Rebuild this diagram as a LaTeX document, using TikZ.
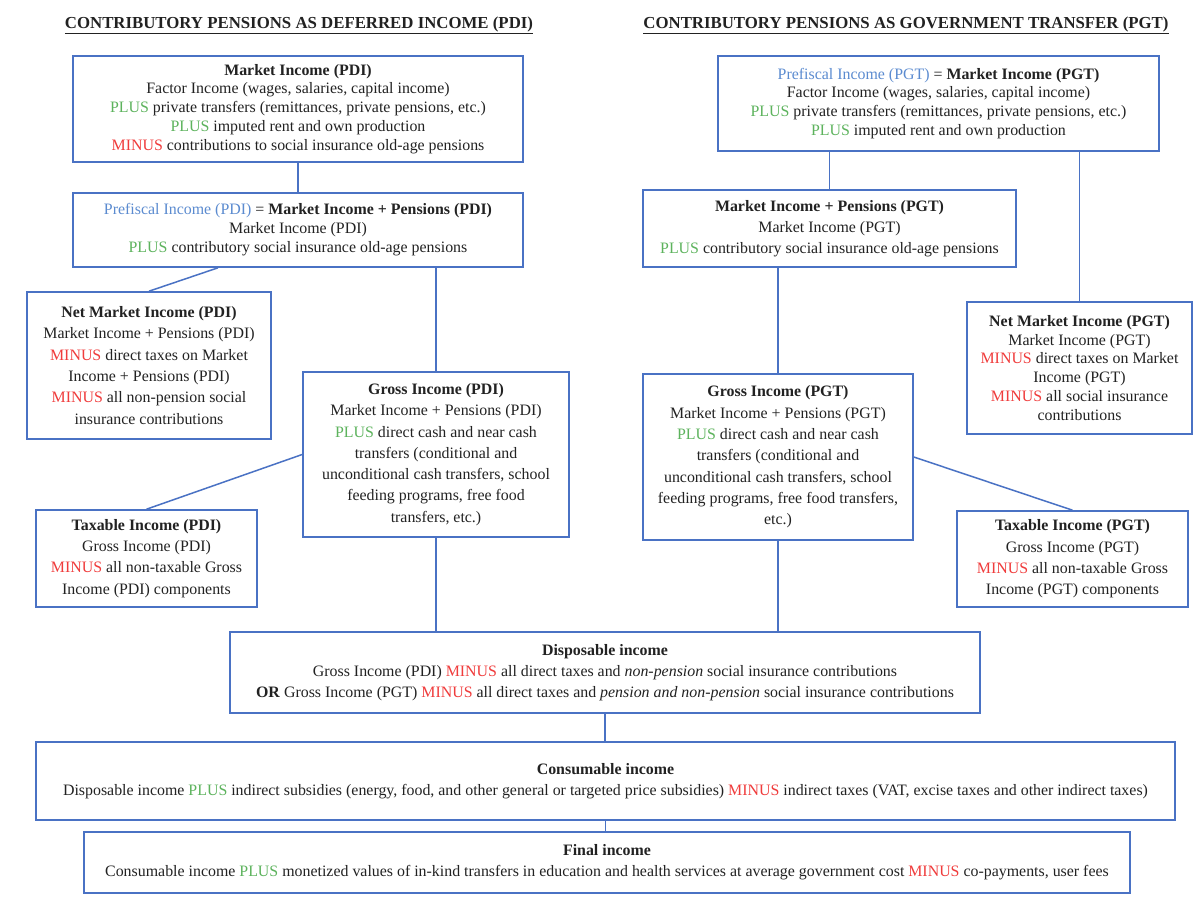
\documentclass[tikz,border=0pt]{standalone}
\usepackage{fontspec}
\setmainfont{Liberation Serif}
\definecolor{boxblue}{HTML}{4A72C4}
\definecolor{plusgreen}{HTML}{5DB35D}
\definecolor{minusred}{HTML}{F03C3C}
\definecolor{preblue}{HTML}{5B8BD0}
\definecolor{textgray}{HTML}{222222}
\newcommand{\kPlus}{\textcolor{plusgreen}{PLUS}}
\newcommand{\kMinus}{\textcolor{minusred}{MINUS}}
\begin{document}
\begin{tikzpicture}[x=1pt,y=-1pt,
  box/.style={draw=boxblue, line width=1.6pt, align=center, inner sep=0pt, text=textgray, font=\fontsize{15.9}{18.9}\selectfont},
  wide/.style={font=\fontsize{15.9}{21.3}\selectfont},
  conn/.style={draw=boxblue, line width=1.5pt},
  ttl/.style={text=textgray, font=\bfseries\fontsize{16.8}{18}\selectfont}]
\useasboundingbox (0,0) rectangle (1200,902);
\fill[white] (0,0) rectangle (1200,902);

\node[ttl] (t1) at (299,25) {\underline{CONTRIBUTORY PENSIONS AS DEFERRED INCOME (PDI)}};
\node[ttl] (t2) at (906,25) {\underline{CONTRIBUTORY PENSIONS AS GOVERNMENT TRANSFER (PGT)}};

% left column
\node[box, minimum width=450pt, minimum height=106pt] (mpdi) at (298,109)
 {\textbf{Market Income (PDI)}\\Factor Income (wages, salaries, capital income)\\\kPlus{} private transfers (remittances, private pensions, etc.)\\\kPlus{} imputed rent and own production\\\kMinus{} contributions to social insurance old-age pensions};
\node[box, minimum width=450pt, minimum height=74pt] (ppdi) at (298,230)
 {\textcolor{preblue}{Prefiscal Income (PDI)} = \textbf{Market Income + Pensions (PDI)}\\Market Income (PDI)\\\kPlus{} contributory social insurance old-age pensions};
\node[box, wide, minimum width=244pt, minimum height=147pt] (npdi) at (149,365.5)
 {\textbf{Net Market Income (PDI)}\\Market Income + Pensions (PDI)\\\kMinus{} direct taxes on Market\\Income + Pensions (PDI)\\\kMinus{} all non-pension social\\insurance contributions};
\node[box, wide, minimum width=266pt, minimum height=165pt] (gpdi) at (436,454.5)
 {\textbf{Gross Income (PDI)}\\Market Income + Pensions (PDI)\\\kPlus{} direct cash and near cash\\transfers (conditional and\\unconditional cash transfers, school\\feeding programs, free food\\transfers, etc.)};
\node[box, wide, minimum width=221pt, minimum height=97pt] (tpdi) at (146.5,558.5)
 {\textbf{Taxable Income (PDI)}\\Gross Income (PDI)\\\kMinus{} all non-taxable Gross\\Income (PDI) components};

% right column
\node[box, minimum width=441pt, minimum height=95pt] (mpgt) at (938.5,103.5)
 {\textcolor{preblue}{Prefiscal Income (PGT)} = \textbf{Market Income (PGT)}\\Factor Income (wages, salaries, capital income)\\\kPlus{} private transfers (remittances, private pensions, etc.)\\\kPlus{} imputed rent and own production};
\node[box, wide, minimum width=373pt, minimum height=77pt] (ppgt) at (829.5,228.5)
 {\textbf{Market Income + Pensions (PGT)}\\Market Income (PGT)\\\kPlus{} contributory social insurance old-age pensions};
\node[box, minimum width=225pt, minimum height=132pt] (npgt) at (1079.5,368)
 {\textbf{Net Market Income (PGT)}\\Market Income (PGT)\\\kMinus{} direct taxes on Market\\Income (PGT)\\\kMinus{} all social insurance\\contributions};
\node[box, wide, minimum width=270pt, minimum height=166pt] (gpgt) at (778,457)
 {\textbf{Gross Income (PGT)}\\Market Income + Pensions (PGT)\\\kPlus{} direct cash and near cash\\transfers (conditional and\\unconditional cash transfers, school\\feeding programs, free food transfers,\\etc.)};
\node[box, wide, minimum width=231pt, minimum height=96pt] (tpgt) at (1072.5,559)
 {\textbf{Taxable Income (PGT)}\\Gross Income (PGT)\\\kMinus{} all non-taxable Gross\\Income (PGT) components};

% bottom
\node[box, wide, minimum width=750pt, minimum height=81pt] (disp) at (605,672.5)
 {\textbf{Disposable income}\\Gross Income (PDI) \kMinus{} all direct taxes and \textit{non-pension} social insurance contributions\\\textbf{OR} Gross Income (PGT) \kMinus{} all direct taxes and \textit{pension and non-pension} social insurance contributions};
\node[box, wide, minimum width=1139pt, minimum height=78pt] (cons) at (605.5,781)
 {\textbf{Consumable income}\\Disposable income \kPlus{} indirect subsidies (energy, food, and other general or targeted price subsidies) \kMinus{} indirect taxes (VAT, excise taxes and other indirect taxes)};
\node[box, wide, minimum width=1046pt, minimum height=61pt] (fin) at (607,862.5)
 {\textbf{Final income}\\Consumable income \kPlus{} monetized values of in-kind transfers in education and health services at average government cost \kMinus{} co-payments, user fees};

% connectors
\draw[conn] (mpdi.south) -- (ppdi.north);
\draw[conn] ([xshift=-80pt]ppdi.south) -- (npdi.north);
\draw[conn] (gpdi.north) -- (gpdi.north |- ppdi.south);
\draw[conn] (gpdi.west) -- (tpdi.north);
\draw[conn] (gpdi.south) -- (gpdi.south |- disp.north);
\draw[conn] (ppgt.north) -- (ppgt.north |- mpgt.south);
\draw[conn] (npgt.north) -- (npgt.north |- mpgt.south);
\draw[conn] (gpgt.north) -- (gpgt.north |- ppgt.south);
\draw[conn] (gpgt.east) -- (tpgt.north);
\draw[conn] (gpgt.south) -- (gpgt.south |- disp.north);
\draw[conn] (disp.south) -- (disp.south |- cons.north);
\draw[conn] (cons.south) -- (cons.south |- fin.north);
\end{tikzpicture}
\end{document}
